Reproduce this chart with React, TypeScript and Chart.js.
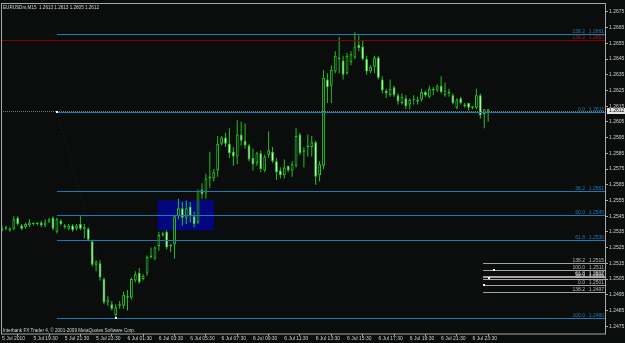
import React, { useEffect, useRef } from 'react';
import { Chart, registerables } from 'chart.js';

Chart.register(...registerables);

// ---------- data ----------
const SYMBOL = 'EURUSDm,M15';
const COPYRIGHT = 'Interbank FX Trader 4, \u00A9 2001-2009 MetaQuotes Software Corp.';

const OPEN = [
  1.2536, 1.2538, 1.2537, 1.2537, 1.2544, 1.2539, 1.2538, 1.2539, 1.2540, 1.2541,
  1.2541, 1.2539, 1.2541, 1.2544, 1.2535, 1.2542, 1.2539, 1.2537, 1.2539, 1.2537,
  1.2540, 1.2537, 1.2537, 1.2529, 1.2514, 1.2515, 1.2505, 1.2490, 1.2489, 1.2482,
  1.2489, 1.2488, 1.2494, 1.2493, 1.2504, 1.2509, 1.2505, 1.2509, 1.2520, 1.2518,
  1.2526, 1.2534, 1.2535, 1.2527, 1.2527, 1.2545, 1.2550, 1.2544, 1.2551, 1.2545,
  1.2541, 1.2562, 1.2560, 1.2570, 1.2569, 1.2574, 1.2591, 1.2595, 1.2591, 1.2586,
  1.2583, 1.2597, 1.2593, 1.2590, 1.2582, 1.2579, 1.2585, 1.2574, 1.2584, 1.2586,
  1.2580, 1.2574, 1.2571, 1.2577, 1.2574, 1.2577, 1.2597, 1.2586, 1.2589, 1.2589,
  1.2592, 1.2571, 1.2577, 1.2632, 1.2628, 1.2637, 1.2646, 1.2644, 1.2636, 1.2643,
  1.2646, 1.2654, 1.2653, 1.2645, 1.2637, 1.2640, 1.2646, 1.2632, 1.2625, 1.2622,
  1.2627, 1.2622, 1.2617, 1.2620, 1.2616, 1.2619, 1.2619, 1.2619, 1.2624, 1.2621,
  1.2625, 1.2625, 1.2628, 1.2622, 1.2624, 1.2622, 1.2614, 1.2620, 1.2616, 1.2617,
  1.2614, 1.2614, 1.2622, 1.2610, 1.2613,
];
const HIGH = [
  1.2539, 1.2539, 1.2538, 1.2545, 1.2545, 1.2540, 1.2541, 1.2543, 1.2541, 1.2541,
  1.2542, 1.2543, 1.2544, 1.2545, 1.2544, 1.2543, 1.2540, 1.2540, 1.2540, 1.2540,
  1.2545, 1.2540, 1.2538, 1.2530, 1.2517, 1.2517, 1.2506, 1.2494, 1.2491, 1.2489,
  1.2491, 1.2497, 1.2498, 1.2506, 1.2510, 1.2512, 1.2508, 1.2520, 1.2525, 1.2526,
  1.2535, 1.2535, 1.2536, 1.2527, 1.2545, 1.2556, 1.2554, 1.2555, 1.2554, 1.2548,
  1.2562, 1.2566, 1.2572, 1.2586, 1.2575, 1.2596, 1.2596, 1.2598, 1.2601, 1.2589,
  1.2606, 1.2605, 1.2604, 1.2591, 1.2588, 1.2586, 1.2587, 1.2584, 1.2599, 1.2589,
  1.2582, 1.2576, 1.2581, 1.2577, 1.2580, 1.2601, 1.2598, 1.2589, 1.2597, 1.2596,
  1.2593, 1.2580, 1.2638, 1.2636, 1.2641, 1.2650, 1.2659, 1.2647, 1.2649, 1.2650,
  1.2662, 1.2660, 1.2657, 1.2647, 1.2641, 1.2647, 1.2647, 1.2634, 1.2626, 1.2632,
  1.2628, 1.2623, 1.2623, 1.2622, 1.2620, 1.2622, 1.2621, 1.2626, 1.2625, 1.2628,
  1.2627, 1.2629, 1.2634, 1.2630, 1.2626, 1.2623, 1.2620, 1.2621, 1.2617, 1.2617,
  1.2615, 1.2626, 1.2623, 1.2613, 1.2613,
];
const LOW = [
  1.2535, 1.2536, 1.2535, 1.2536, 1.2539, 1.2536, 1.2537, 1.2538, 1.2539, 1.2539,
  1.2538, 1.2538, 1.2541, 1.2536, 1.2534, 1.2539, 1.2537, 1.2536, 1.2535, 1.2536,
  1.2536, 1.2531, 1.2529, 1.2513, 1.2510, 1.2504, 1.2489, 1.2488, 1.2485, 1.2480,
  1.2486, 1.2486, 1.2485, 1.2492, 1.2503, 1.2502, 1.2504, 1.2507, 1.2518, 1.2517,
  1.2523, 1.2532, 1.2524, 1.2522, 1.2518, 1.2543, 1.2539, 1.2540, 1.2541, 1.2538,
  1.2540, 1.2556, 1.2556, 1.2563, 1.2567, 1.2570, 1.2590, 1.2589, 1.2582, 1.2577,
  1.2578, 1.2590, 1.2588, 1.2580, 1.2574, 1.2577, 1.2573, 1.2573, 1.2582, 1.2579,
  1.2568, 1.2569, 1.2569, 1.2573, 1.2570, 1.2576, 1.2584, 1.2576, 1.2583, 1.2583,
  1.2565, 1.2567, 1.2575, 1.2617, 1.2617, 1.2636, 1.2636, 1.2632, 1.2635, 1.2641,
  1.2645, 1.2650, 1.2644, 1.2635, 1.2636, 1.2636, 1.2632, 1.2623, 1.2620, 1.2621,
  1.2621, 1.2616, 1.2616, 1.2613, 1.2613, 1.2616, 1.2616, 1.2618, 1.2621, 1.2620,
  1.2622, 1.2624, 1.2623, 1.2621, 1.2621, 1.2616, 1.2613, 1.2616, 1.2614, 1.2612,
  1.2613, 1.2613, 1.2607, 1.2601, 1.2605,
];
const CLOSE = [
  1.2537, 1.2537, 1.2536, 1.2543, 1.2540, 1.2537, 1.2540, 1.2541, 1.2540, 1.2540,
  1.2539, 1.2541, 1.2543, 1.2537, 1.2543, 1.2540, 1.2538, 1.2539, 1.2536, 1.2539,
  1.2537, 1.2538, 1.2530, 1.2514, 1.2516, 1.2506, 1.2490, 1.2492, 1.2486, 1.2487,
  1.2488, 1.2495, 1.2493, 1.2505, 1.2508, 1.2503, 1.2507, 1.2519, 1.2519, 1.2525,
  1.2533, 1.2533, 1.2525, 1.2526, 1.2545, 1.2550, 1.2544, 1.2550, 1.2545, 1.2540,
  1.2561, 1.2559, 1.2569, 1.2569, 1.2573, 1.2591, 1.2595, 1.2591, 1.2585, 1.2583,
  1.2597, 1.2593, 1.2590, 1.2581, 1.2578, 1.2585, 1.2575, 1.2583, 1.2587, 1.2580,
  1.2573, 1.2571, 1.2576, 1.2574, 1.2578, 1.2596, 1.2585, 1.2587, 1.2590, 1.2592,
  1.2570, 1.2578, 1.2633, 1.2627, 1.2638, 1.2647, 1.2645, 1.2635, 1.2647, 1.2648,
  1.2653, 1.2652, 1.2645, 1.2637, 1.2640, 1.2646, 1.2633, 1.2625, 1.2623, 1.2626,
  1.2622, 1.2618, 1.2621, 1.2615, 1.2619, 1.2619, 1.2618, 1.2624, 1.2622, 1.2626,
  1.2626, 1.2628, 1.2624, 1.2625, 1.2623, 1.2617, 1.2619, 1.2617, 1.2615, 1.2614,
  1.2615, 1.2622, 1.2609, 1.2613, 1.2612,
];

const TIME_TICK_INDEX = [0, 8, 16, 24, 32, 40, 48, 56, 64, 72, 80, 88, 96, 104, 112, 120];
const TIME_LABELS = [
  '5 Jul 2010', '5 Jul 19:30', '5 Jul 21:30', '5 Jul 23:30', '6 Jul 01:30', '6 Jul 03:30',
  '6 Jul 05:30', '6 Jul 07:30', '6 Jul 09:30', '6 Jul 11:30', '6 Jul 13:30', '6 Jul 15:30',
  '6 Jul 17:30', '6 Jul 19:30', '6 Jul 21:30', '6 Jul 23:30',
];

const PRICE_TICKS = [
  1.2475, 1.2485, 1.2495, 1.2505, 1.2515, 1.2525, 1.2535, 1.2545, 1.2555, 1.2565, 1.2575,
  1.2585, 1.2595, 1.2605, 1.2615, 1.2625, 1.2635, 1.2645, 1.2655, 1.2665, 1.2675,
];
const PRICE_TICK_LABELS = [
  '1.2475', '1.2485', '1.2495', '1.2505', '1.2515', '1.2525', '1.2535', '1.2545', '1.2555', '1.2565', '1.2575',
  '1.2585', '1.2595', '1.2605', '1.2615', '1.2625', '1.2635', '1.2645', '1.2655', '1.2665', '1.2675',
];

// main Fibonacci (blue)
const FIB_MAIN_LEVELS = ['138.2', '0.0', '38.2', '50.0', '61.8', '100.0'];
const FIB_MAIN_PRICES = [1.2661, 1.2611, 1.2561, 1.25455, 1.2530, 1.2480];
const FIB_MAIN_PRICE_LABELS = ['1.2661', '1.2611', '1.2561', '1.2545', '1.2530', '1.2480'];
const FIB_MAIN_START = 14;
const FIB_MAIN_ANCHORS = [[14, 1.2611], [29, 1.2480]];

// red level
const FIB_RED_LEVELS = ['138.2'];
const FIB_RED_PRICES = [1.2657];
const FIB_RED_PRICE_LABELS = ['1.2657'];

// small Fibonacci (gray)
const FIB_GRAY_LEVELS = ['138.2', '100.0', '61.8', '50.0', '38.2', '0.0', '138.2'];
const FIB_GRAY_PRICES = [1.2515, 1.2511, 1.25072, 1.2506, 1.25048, 1.2501, 1.2497];
const FIB_GRAY_PRICE_LABELS = ['1.2515', '1.2511', '1.2507', '1.2506', '1.2505', '1.2501', '1.2497'];
const FIB_GRAY_START = 122.7;
const FIB_GRAY_ANCHORS = [[125.4, 1.2511], [124.2, 1.25058], [123.0, 1.2501]];

// rectangle
const RECT_X = [39.7, 54.1];
const RECT_PRICE = [1.2536, 1.2555];

const BID = 1.2612;

// ---------- styles ----------
const BG = '#0b0d0d';
const FRAME = '#a8a8a8';
const AXIS_TEXT = '#cfcfcf';
const WICK = '#24c024';
const BODY_BORDER = '#28c828';
const BULL_FILL = '#0b0d0d';
const BEAR_FILL = '#eeffee';
const FIB_BLUE = '#1f7ab6';
const FIB_RED = '#7e0505';
const FIB_GRAY = '#a4a4a4';
const RECT_FILL = '#02077f';
const FONT = "'Liberation Sans', Arial, sans-serif";

const X_MIN = -0.26;
const X_MAX = 153.8;
const Y_MIN = 1.2470;
const Y_MAX = 1.2680;

const overlayPlugin = {
  id: 'mtOverlay',
  beforeDraw(chart: any) {
    const { ctx, width, height } = chart;
    ctx.save();
    ctx.fillStyle = BG;
    ctx.fillRect(0, 0, width, height);
    ctx.restore();
  },
  beforeDatasetsDraw(chart: any) {
    const { ctx, scales: { x, y } } = chart;
    ctx.save();
    const x0 = x.getPixelForValue(RECT_X[0]);
    const x1 = x.getPixelForValue(RECT_X[1]);
    const y0 = y.getPixelForValue(RECT_PRICE[1]);
    const y1 = y.getPixelForValue(RECT_PRICE[0]);
    ctx.fillStyle = RECT_FILL;
    ctx.fillRect(x0, y0, x1 - x0, y1 - y0);
    // dotted fib trend line (faint)
    ctx.strokeStyle = 'rgba(50,90,150,0.35)';
    ctx.lineWidth = 1;
    ctx.setLineDash([1, 3]);
    ctx.beginPath();
    ctx.moveTo(x.getPixelForValue(FIB_MAIN_ANCHORS[0][0]), y.getPixelForValue(FIB_MAIN_ANCHORS[0][1]));
    ctx.lineTo(x.getPixelForValue(FIB_MAIN_ANCHORS[1][0]), y.getPixelForValue(FIB_MAIN_ANCHORS[1][1]));
    ctx.stroke();
    ctx.restore();
  },
  afterDatasetsDraw(chart: any) {
    const { ctx, chartArea, scales: { x, y } } = chart;
    const { left, right } = chartArea;
    ctx.save();
    const hline = (price: number, fromX: number, color: string, dash: number[]) => {
      const py = Math.round(y.getPixelForValue(price)) + 0.5;
      ctx.strokeStyle = color;
      ctx.setLineDash(dash);
      ctx.lineWidth = 1;
      ctx.beginPath();
      ctx.moveTo(fromX, py);
      ctx.lineTo(right, py);
      ctx.stroke();
    };
    // bid line
    hline(BID, left, '#7a7a7a', [1, 1]);
    // red
    FIB_RED_PRICES.forEach((p) => hline(p, left, FIB_RED, []));
    // blue
    const blueStart = x.getPixelForValue(FIB_MAIN_START);
    FIB_MAIN_PRICES.forEach((p) => hline(p, blueStart, FIB_BLUE, []));
    // gray
    const grayStart = x.getPixelForValue(FIB_GRAY_START);
    FIB_GRAY_PRICES.forEach((p) => hline(p, grayStart, FIB_GRAY, []));
    ctx.setLineDash([]);

    // anchor markers
    ctx.fillStyle = '#ffffff';
    [...FIB_MAIN_ANCHORS, ...FIB_GRAY_ANCHORS].forEach(([ix, p]) => {
      const px = x.getPixelForValue(ix);
      const py = y.getPixelForValue(p);
      ctx.fillRect(Math.round(px) - 1, Math.round(py) - 1, 2, 2);
    });

    // labels
    ctx.font = `5px ${FONT}`;
    ctx.textAlign = 'right';
    ctx.textBaseline = 'bottom';
    const label = (lvl: string, price: string, p: number, color: string) => {
      const py = Math.round(y.getPixelForValue(p));
      ctx.fillStyle = color;
      ctx.fillText(lvl, right - 20, py);
      ctx.fillText(price, right - 1, py);
    };
    FIB_MAIN_LEVELS.forEach((l, i) => label(l, FIB_MAIN_PRICE_LABELS[i], FIB_MAIN_PRICES[i], FIB_BLUE));
    FIB_RED_LEVELS.forEach((l, i) => label(l, FIB_RED_PRICE_LABELS[i], FIB_RED_PRICES[i], '#b01010'));
    FIB_GRAY_LEVELS.forEach((l, i) => label(l, FIB_GRAY_PRICE_LABELS[i], FIB_GRAY_PRICES[i], '#b8b8b8'));
    ctx.restore();
  },
  afterDraw(chart: any) {
    const { ctx, chartArea, scales: { y } } = chart;
    const { left, right, top, bottom } = chartArea;
    ctx.save();
    ctx.strokeStyle = FRAME;
    ctx.lineWidth = 1;
    ctx.strokeRect(left + 0.5, top - 0.5, right - left, bottom - top + 0.5);

    ctx.font = `4.6px ${FONT}`;
    ctx.fillStyle = '#d6d6d6';
    ctx.textAlign = 'left';
    ctx.textBaseline = 'top';
    const n = OPEN.length - 1;
    const head = `${SYMBOL}  ${OPEN[n].toFixed(4)} ${HIGH[n].toFixed(4)} ${LOW[n].toFixed(4)} ${CLOSE[n].toFixed(4)}`;
    ctx.fillText(head, left + 2, top + 1);
    ctx.fillText(COPYRIGHT, left + 2, bottom - 6);

    // bid price box on axis
    const by = y.getPixelForValue(BID);
    ctx.font = `5px ${FONT}`;
    ctx.fillStyle = '#e6e6e6';
    ctx.fillRect(right + 2, Math.round(by) - 3, 20, 6);
    ctx.fillStyle = '#000000';
    ctx.textBaseline = 'middle';
    ctx.fillText(BID.toFixed(4), right + 4, by);
    ctx.restore();
  },
};

export default function App() {
  const canvasRef = useRef<HTMLCanvasElement | null>(null);

  useEffect(() => {
    document.body.style.margin = '0';
    document.body.style.background = BG;
    const canvas = canvasRef.current;
    if (!canvas) return;
    Chart.defaults.font.family = FONT;

    const wicks = OPEN.map((_, i) => ({ x: i, y: [LOW[i], HIGH[i]] }));
    const bodies = OPEN.map((o, i) => ({ x: i, y: [o, CLOSE[i]] }));
    const bodyFill = OPEN.map((o, i) => (CLOSE[i] < o ? BEAR_FILL : BULL_FILL));

    const chart = new Chart(canvas, {
      type: 'bar',
      data: {
        datasets: [
          {
            data: wicks as any,
            backgroundColor: WICK,
            borderWidth: 0,
            grouped: false,
            maxBarThickness: 1,
            order: 2,
          } as any,
          {
            data: bodies as any,
            backgroundColor: bodyFill,
            borderColor: BODY_BORDER,
            borderWidth: 1,
            borderSkipped: false,
            minBarLength: 1,
            grouped: false,
            maxBarThickness: 3,
            order: 1,
          } as any,
        ],
      },
      options: {
        animation: false,
        responsive: false,
        maintainAspectRatio: false,
        devicePixelRatio: 1,
        events: [],
        layout: { padding: { left: 1, top: 2, right: 0, bottom: 0 } },
        plugins: { legend: { display: false }, tooltip: { enabled: false }, title: { display: false } },
        scales: {
          x: {
            type: 'linear',
            position: 'bottom',
            min: X_MIN,
            max: X_MAX,
            bounds: 'data',
            offset: false,
            afterBuildTicks: (s: any) => {
              s.ticks = TIME_TICK_INDEX.map((v) => ({ value: v }));
            },
            afterFit: (s: any) => {
              s.height = 9;
            },
            ticks: {
              callback: (_v: any, i: number) => TIME_LABELS[i],
              align: 'start',
              maxRotation: 0,
              minRotation: 0,
              autoSkip: false,
              padding: 0,
              color: AXIS_TEXT,
              font: { size: 5, family: FONT },
            },
            grid: { display: true, drawOnChartArea: false, drawTicks: true, tickLength: 2, color: FRAME },
            border: { display: false },
          } as any,
          y: {
            type: 'linear',
            position: 'right',
            min: Y_MIN,
            max: Y_MAX,
            bounds: 'data',
            afterBuildTicks: (s: any) => {
              s.ticks = PRICE_TICKS.map((v) => ({ value: v }));
            },
            afterFit: (s: any) => {
              s.width = 20;
            },
            ticks: {
              callback: (_v: any, i: number) => PRICE_TICK_LABELS[i],
              padding: 1,
              color: AXIS_TEXT,
              font: { size: 5, family: FONT },
            },
            grid: { display: true, drawOnChartArea: false, drawTicks: true, tickLength: 3, color: FRAME },
            border: { display: false },
          } as any,
        },
      },
      plugins: [overlayPlugin],
    });
    return () => chart.destroy();
  }, []);

  return (
    <div style={{ position: 'fixed', left: 0, top: 0, width: 625, height: 343, background: BG }}>
      <canvas ref={canvasRef} width={625} height={343} style={{ display: 'block', width: 625, height: 343 }} />
    </div>
  );
}
